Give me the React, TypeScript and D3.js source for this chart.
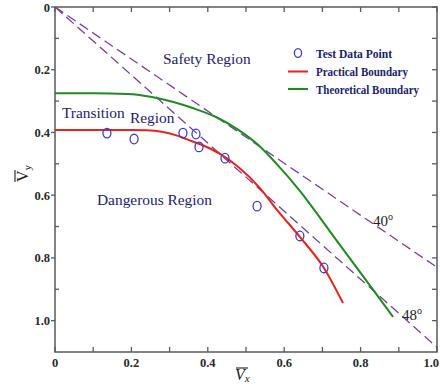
import React from "react";
import * as d3 from "d3";

// ---------- data ----------
const xTickValues = [0, 0.1, 0.2, 0.3, 0.4, 0.5, 0.6, 0.7, 0.8, 0.9, 1.0];
const xTickLabels = ["0", "0.2", "0.4", "0.6", "0.8", "1.0"];
const xLabelValues = [0, 0.2, 0.4, 0.6, 0.8, 1.0];
const yTickValues = [0, 0.1, 0.2, 0.3, 0.4, 0.5, 0.6, 0.7, 0.8, 0.9, 1.0];
const yTickLabels = ["0", "0.2", "0.4", "0.6", "0.8", "1.0"];
const yLabelValues = [0, 0.2, 0.4, 0.6, 0.8, 1.0];

const testX = [0.136, 0.207, 0.335, 0.369, 0.377, 0.445, 0.529, 0.641, 0.704];
const testY = [0.402, 0.421, 0.402, 0.405, 0.446, 0.482, 0.635, 0.73, 0.832];

const practicalX = [0, 0.1, 0.2, 0.24, 0.28, 0.32, 0.346, 0.4, 0.432, 0.48, 0.537, 0.58, 0.641, 0.704, 0.754];
const practicalY = [0.392, 0.392, 0.392, 0.393, 0.398, 0.41, 0.422, 0.448, 0.468, 0.51, 0.578, 0.645, 0.733, 0.832, 0.944];

const theoreticalX = [0, 0.1, 0.19, 0.25, 0.31, 0.36, 0.42, 0.48, 0.53, 0.58, 0.641, 0.72, 0.8, 0.885];
const theoreticalY = [0.275, 0.275, 0.277, 0.286, 0.303, 0.322, 0.35, 0.392, 0.438, 0.5, 0.586, 0.716, 0.848, 0.988];

const guideLabels = ["40", "48"];
const guideEndX = [1.0, 1.0];
const guideEndY = [0.83, 1.085];

const regionLabels = ["Safety Region", "Transition", "Region", "Dangerous Region"];
const legendLabels = ["Test Data Point", "Practical Boundary", "Theoretical Boundary"];

// ---------- layout ----------
const W = 440;
const H = 385;
const L = 55;
const R = 437;
const T = 7;
const B = 352;

const SERIF = "'Liberation Serif', 'Times New Roman', serif";
const NAVY = "#1b1d6a";
const AXIS = "#5a5a5a";
const RED = "#e8221c";
const GREEN = "#1f8a22";
const PURPLE = "#7a3fa0";
const BLUE = "#3a3ad6";

export default function App() {
  const x = d3.scaleLinear().domain([0, 1]).range([L, R]);
  const y = d3.scaleLinear().domain([0, 1.1]).range([T, B]);

  const line = d3
    .line<[number, number]>()
    .x((d) => x(d[0]))
    .y((d) => y(d[1]))
    .curve(d3.curveMonotoneX);

  const practical: [number, number][] = practicalX.map((v, i) => [v, practicalY[i]]);
  const theoretical: [number, number][] = theoreticalX.map((v, i) => [v, theoreticalY[i]]);

  const straight = d3
    .line<[number, number]>()
    .x((d) => x(d[0]))
    .y((d) => y(d[1]));

  const guides = guideEndX.map((ex, i) => straight([[0, 0], [ex, guideEndY[i]]]) as string);

  return (
    <svg
      width={W}
      height={H}
      style={{ position: "absolute", left: 0, top: 0, background: "#fff" }}
      fontFamily={SERIF}
    >
      <defs>
        <clipPath id="plot">
          <rect x={L} y={T} width={R - L} height={B - T} />
        </clipPath>
      </defs>
      <rect x={0} y={0} width={W} height={H} fill="#fff" />

      {/* dashed guide lines */}
      <g clipPath="url(#plot)">
        {guides.map((d, i) => (
          <path key={i} d={d} fill="none" stroke={PURPLE} strokeWidth={1.3} strokeDasharray="10,5" />
        ))}
      </g>

      {/* boundaries */}
      <path d={line(theoretical) as string} fill="none" stroke={GREEN} strokeWidth={2} />
      <path d={line(practical) as string} fill="none" stroke={RED} strokeWidth={2} />

      {/* test points */}
      {testX.map((v, i) => (
        <ellipse key={i} cx={x(v)} cy={y(testY[i])} rx={4} ry={4.8} fill="none" stroke={BLUE} strokeWidth={1.3} />
      ))}

      {/* frame */}
      <rect x={L} y={T} width={R - L} height={B - T} fill="none" stroke={AXIS} strokeWidth={1.5} />

      {/* x ticks: bottom and top, inward */}
      {xTickValues.map((v, i) => (
        <g key={"xt" + i} stroke={AXIS} strokeWidth={1.3}>
          <line x1={x(v)} x2={x(v)} y1={B} y2={B - 5} />
          <line x1={x(v)} x2={x(v)} y1={T} y2={T + 5} />
        </g>
      ))}
      {/* y ticks: left (major out, minor in), right inward */}
      {yTickValues.map((v, i) => (
        <g key={"yt" + i} stroke={AXIS} strokeWidth={1.3}>
          {i % 2 === 0 ? (
            <line x1={L - 4} x2={L} y1={y(v)} y2={y(v)} />
          ) : (
            <line x1={L} x2={L + 4} y1={y(v)} y2={y(v)} />
          )}
          <line x1={R} x2={R - 5} y1={y(v)} y2={y(v)} />
        </g>
      ))}

      {/* tick labels */}
      {xLabelValues.map((v, i) => {
        const last = i === xLabelValues.length - 1;
        return (
          <text
            key={"xl" + i}
            x={last ? W - 1 : x(v)}
            y={367}
            textAnchor={last ? "end" : "middle"}
            fontSize={12.5}
            fontWeight="bold"
            fill="#2a2a2a"
          >
            {xTickLabels[i]}
          </text>
        );
      })}
      {yLabelValues.map((v, i) => (
        <text key={"yl" + i} x={L - 5} y={y(v) + 4.5} textAnchor="end" fontSize={12.5} fontWeight="bold" fill="#2a2a2a">
          {yTickLabels[i]}
        </text>
      ))}

      {/* axis labels */}
      <g fill="#222">
        <text x={235} y={380} fontSize={16} fontStyle="italic">
          V<tspan fontSize={11} dy={1.5}>x</tspan>
        </text>
        <line x1={236} x2={248} y1={368} y2={368} stroke="#222" strokeWidth={1.1} />
      </g>
      <g transform="translate(28,182) rotate(-90)" fill="#222">
        <text x={0} y={0} fontSize={16}>
          V<tspan fontSize={11} dy={3}>y</tspan>
        </text>
        <line x1={0} x2={12} y1={-13} y2={-13} stroke="#222" strokeWidth={1.1} />
      </g>

      {/* region labels */}
      <g fill={NAVY} fontSize={15.4}>
        <text x={163} y={63.5}>{regionLabels[0]}</text>
        <text x={62} y={118}>{regionLabels[1]}</text>
        <text x={130} y={123}>{regionLabels[2]}</text>
        <text x={97} y={204.5}>{regionLabels[3]}</text>
      </g>

      {/* angle labels */}
      <g fill="#222" fontSize={15}>
        <text x={373} y={226}>
          {guideLabels[0]}
          <tspan fontSize={10} dy={-6}>o</tspan>
        </text>
        <text x={402} y={320}>
          {guideLabels[1]}
          <tspan fontSize={10} dy={-6}>o</tspan>
        </text>
      </g>

      {/* legend */}
      <g fontSize={12.5} fontWeight="bold" fill={NAVY}>
        <ellipse cx={298} cy={53} rx={3.6} ry={4.4} fill="none" stroke={BLUE} strokeWidth={1.3} />
        <text x={316} y={57.5} textLength={76} lengthAdjust="spacingAndGlyphs">{legendLabels[0]}</text>
        <line x1={288} x2={308} y1={71.5} y2={71.5} stroke={RED} strokeWidth={2} />
        <text x={316} y={76} textLength={92} lengthAdjust="spacingAndGlyphs">{legendLabels[1]}</text>
        <line x1={288} x2={308} y1={89} y2={89} stroke={GREEN} strokeWidth={2} />
        <text x={316} y={93.5} textLength={103} lengthAdjust="spacingAndGlyphs">{legendLabels[2]}</text>
      </g>
    </svg>
  );
}
